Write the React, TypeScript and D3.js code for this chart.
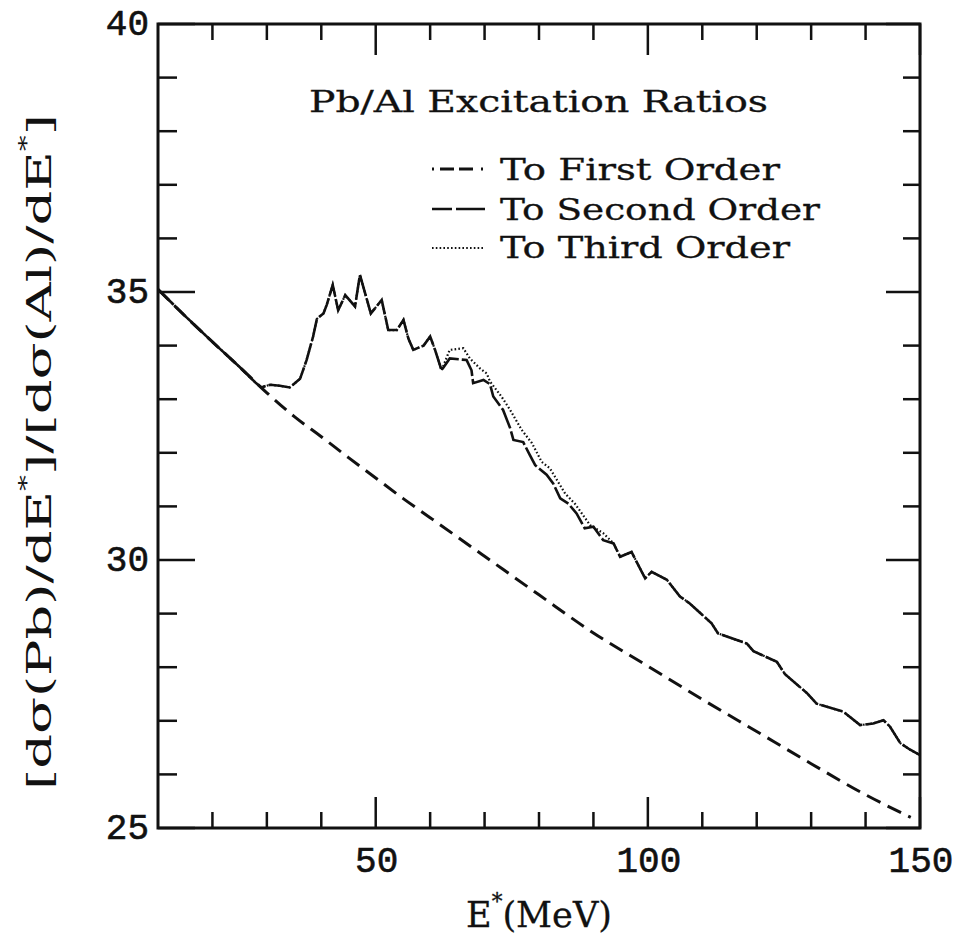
import React from 'react';
import * as d3 from 'd3';

// Excitation energy E* (MeV) ticks
const xMinorTicks = [20, 30, 40, 60, 70, 80, 90, 110, 120, 130, 140];
const xMajorTicks = [50, 100, 150];
const xTickLabels = ['50', '100', '150'];

// Cross-section ratio ticks
const yMinorTicks = [26, 27, 28, 29, 31, 32, 33, 34, 36, 37, 38, 39];
const yMajorTicks = [25, 30, 35, 40];
const yTickLabels = ['25', '30', '35', '40'];

// Ratio to first order (smooth)
const firstOrder: [number, number][] = [
  [10, 35.05], [15, 34.55], [20, 34.07], [25, 33.6], [30, 33.12], [35, 32.68],
  [40, 32.3], [45, 31.91], [50, 31.53], [55, 31.15], [60, 30.79], [70, 30.07],
  [80, 29.35], [90, 28.64], [100, 28.02], [110, 27.4], [120, 26.8], [130, 26.2],
  [140, 25.62], [148.3, 25.2],
];

// Ratio to second order
const secondOrder: [number, number][] = [
  [10, 35.05], [15, 34.55], [20, 34.07], [25, 33.6], [28, 33.3], [29, 33.22],
  [30.6, 33.27], [32.4, 33.25], [34.2, 33.22], [36.1, 33.38], [37.3, 33.73],
  [38.5, 34.17], [39.2, 34.5], [40.4, 34.6], [41.0, 34.76], [42.1, 35.13],
  [43.1, 34.66], [44.4, 34.94], [46.2, 34.73], [47.1, 35.32], [49.1, 34.6],
  [51.1, 34.85], [52.3, 34.29], [53.9, 34.29], [55.1, 34.48], [56.0, 34.13],
  [56.9, 33.92], [58.8, 34.0], [60.0, 34.17], [60.9, 33.92], [62.1, 33.54],
  [63.6, 33.76], [66.7, 33.73], [67.6, 33.54], [67.9, 33.3], [69.8, 33.36],
  [71.0, 33.28], [71.6, 33.05], [73.4, 32.8], [74.7, 32.46], [75.3, 32.24],
  [77.1, 32.2], [78.3, 31.96], [79.3, 31.77], [81.4, 31.59], [82.6, 31.43],
  [83.9, 31.15], [85.4, 31.05], [86.9, 30.87], [88.4, 30.59], [90.0, 30.62],
  [91.8, 30.37], [93.7, 30.31], [94.9, 30.06], [97.0, 30.15], [99.5, 29.66],
  [100.7, 29.78], [103.5, 29.63], [105.9, 29.32], [107.7, 29.19], [111.7, 28.82],
  [112.9, 28.63], [118.2, 28.44], [119.4, 28.3], [123.7, 28.1], [125.2, 27.87],
  [129.2, 27.52], [131.0, 27.32], [135.9, 27.17], [139.0, 26.92], [141.4, 26.95],
  [143.3, 27.01], [144.5, 26.89], [146.4, 26.58], [148.2, 26.46], [150, 26.36],
];

// Ratio to third order
const thirdOrder: [number, number][] = [
  [10, 35.05], [15, 34.55], [20, 34.07], [25, 33.6], [28, 33.3], [29, 33.22],
  [30.6, 33.27], [32.4, 33.25], [34.2, 33.22], [36.1, 33.38], [37.3, 33.73],
  [38.5, 34.17], [39.2, 34.5], [40.4, 34.6], [41.0, 34.76], [42.1, 35.13],
  [43.1, 34.66], [44.4, 34.94], [46.2, 34.73], [47.1, 35.32], [49.1, 34.6],
  [51.1, 34.85], [52.3, 34.29], [53.9, 34.29], [55.1, 34.48], [56.0, 34.13],
  [56.9, 33.92], [58.8, 34.0], [60.0, 34.17], [60.9, 33.92], [62.1, 33.54],
  [63.6, 33.92], [66.1, 33.95], [67.3, 33.76], [69.2, 33.57], [70.4, 33.48],
  [71.0, 33.33], [73.1, 33.05], [74.7, 32.8], [76.8, 32.43], [78.7, 32.18],
  [80.5, 31.83], [82.0, 31.71], [84.8, 31.24], [86.6, 31.05], [89.4, 30.65],
  [91.8, 30.5], [93.7, 30.31], [94.9, 30.06], [97.0, 30.15], [99.5, 29.66],
  [100.7, 29.78], [103.5, 29.63], [105.9, 29.32], [107.7, 29.19], [111.7, 28.82],
  [112.9, 28.63], [118.2, 28.44], [119.4, 28.3], [123.7, 28.1], [125.2, 27.87],
  [129.2, 27.52], [131.0, 27.32], [135.9, 27.17], [139.0, 26.92], [141.4, 26.95],
  [143.3, 27.01], [144.5, 26.89], [146.4, 26.58], [148.2, 26.46], [150, 26.36],
];

const legendLabels = ['To First Order', 'To Second Order', 'To Third Order'];
const titleText = 'Pb/Al Excitation Ratios';

const W = 963;
const H = 948;
const left = 158;
const right = 920;
const top = 24;
const bottom = 828;

const MONO = '"Liberation Mono", "DejaVu Sans Mono", monospace';
const SERIF = '"DejaVu Serif", "Liberation Serif", serif';
const INK = '#111';

const dashFirst = '15 8';
const dashSecond = '22 3';
const dashThird = '1.6 2.2';

export default function App() {
  const x = d3.scaleLinear().domain([10, 150]).range([left, right]);
  const y = d3.scaleLinear().domain([25, 40]).range([bottom, top]);
  const line = d3
    .line<[number, number]>()
    .x((d) => x(d[0]))
    .y((d) => y(d[1]))
    .curve(d3.curveLinear);
  const smooth = d3
    .line<[number, number]>()
    .x((d) => x(d[0]))
    .y((d) => y(d[1]))
    .curve(d3.curveMonotoneX);

  const minorLen = 17;
  const majorLen = 33;

  const monoStyle = {
    fontFamily: MONO,
    fill: INK,
    stroke: INK,
    strokeWidth: 0.6,
  } as const;
  const serifStyle = {
    fontFamily: SERIF,
    fill: INK,
    stroke: INK,
    strokeWidth: 0.3,
  } as const;

  return (
    <svg
      width={W}
      height={H}
      viewBox={`0 0 ${W} ${H}`}
      style={{ position: 'absolute', left: 0, top: 0, background: '#fff' }}
    >
      <rect x={0} y={0} width={W} height={H} fill="#fff" />

      {/* curves */}
      <path d={smooth(firstOrder) ?? ''} fill="none" stroke={INK} strokeWidth={3} strokeDasharray={dashFirst} />
      <path d={line(secondOrder) ?? ''} fill="none" stroke={INK} strokeWidth={2.6} strokeDasharray={dashSecond} />
      <path d={line(thirdOrder) ?? ''} fill="none" stroke={INK} strokeWidth={2.2} strokeDasharray={dashThird} />

      {/* frame */}
      <rect x={left} y={top} width={right - left} height={bottom - top} fill="none" stroke={INK} strokeWidth={3} />

      {/* x ticks, bottom and top */}
      {xMinorTicks.map((t) => (
        <g key={`xm${t}`} stroke={INK} strokeWidth={2.5}>
          <line x1={x(t)} x2={x(t)} y1={bottom} y2={bottom - minorLen + 1} />
          <line x1={x(t)} x2={x(t)} y1={top} y2={top + minorLen - 1} />
        </g>
      ))}
      {xMajorTicks.map((t) => (
        <g key={`xM${t}`} stroke={INK} strokeWidth={2.5}>
          <line x1={x(t)} x2={x(t)} y1={bottom} y2={bottom - majorLen + 2} />
          <line x1={x(t)} x2={x(t)} y1={top} y2={top + majorLen - 2} />
        </g>
      ))}

      {/* y ticks, left and right */}
      {yMinorTicks.map((t) => (
        <g key={`ym${t}`} stroke={INK} strokeWidth={2.5}>
          <line x1={left} x2={left + minorLen + 2} y1={y(t)} y2={y(t)} />
          <line x1={right} x2={right - minorLen} y1={y(t)} y2={y(t)} />
        </g>
      ))}
      {yMajorTicks.map((t) => (
        <g key={`yM${t}`} stroke={INK} strokeWidth={2.5}>
          <line x1={left} x2={left + majorLen + 4} y1={y(t)} y2={y(t)} />
          <line x1={right} x2={right - majorLen - 1} y1={y(t)} y2={y(t)} />
        </g>
      ))}

      {/* tick labels */}
      {xMajorTicks.map((t, i) => (
        <text key={`xl${t}`} x={x(t) + 1} y={872} textAnchor="middle" fontSize={36} style={monoStyle}>
          {xTickLabels[i]}
        </text>
      ))}
      {yMajorTicks.map((t, i) => (
        <text key={`yl${t}`} x={149} y={y(t) + 11} textAnchor="end" fontSize={36} style={monoStyle}>
          {yTickLabels[i]}
        </text>
      ))}

      {/* axis titles */}
      <text x={466} y={927} fontSize={36} textLength={146} lengthAdjust="spacingAndGlyphs" style={serifStyle}>
        E<tspan fontSize={22} dy={-18}>*</tspan>
        <tspan dy={18}>(MeV)</tspan>
      </text>
      <text
        transform={`translate(51, 452) rotate(-90)`}
        textAnchor="middle"
        fontSize={34}
        textLength={676}
        lengthAdjust="spacingAndGlyphs"
        style={{ ...serifStyle, strokeWidth: 0 }}
      >
        [dσ(Pb)/dE<tspan fontSize={20} dy={-18}>*</tspan>
        <tspan dy={18}>]/[dσ(Al)/dE</tspan>
        <tspan fontSize={20} dy={-18}>*</tspan>
        <tspan dy={18}>]</tspan>
      </text>

      {/* title */}
      <text x={309} y={112} fontSize={29} textLength={459} lengthAdjust="spacingAndGlyphs" style={serifStyle}>
        {titleText}
      </text>

      {/* legend */}
      {[dashFirst, dashSecond, dashThird].map((dash, i) => {
        const ly = [169, 209, 248][i];
        const widths = [3, 2.6, 2.2];
        return (
          <g key={`lg${i}`}>
            <line
              x1={432}
              x2={485}
              y1={ly}
              y2={ly}
              stroke={INK}
              strokeWidth={widths[i]}
              strokeDasharray={i === 0 ? '2 6 14 5 14 8' : i === 1 ? '20 4 30' : dash}
            />
            <text
              x={500}
              y={[180, 220, 258][i]}
              fontSize={30}
              textLength={[280, 320, 290][i]}
              lengthAdjust="spacingAndGlyphs"
              style={serifStyle}
            >
              {legendLabels[i]}
            </text>
          </g>
        );
      })}
    </svg>
  );
}
